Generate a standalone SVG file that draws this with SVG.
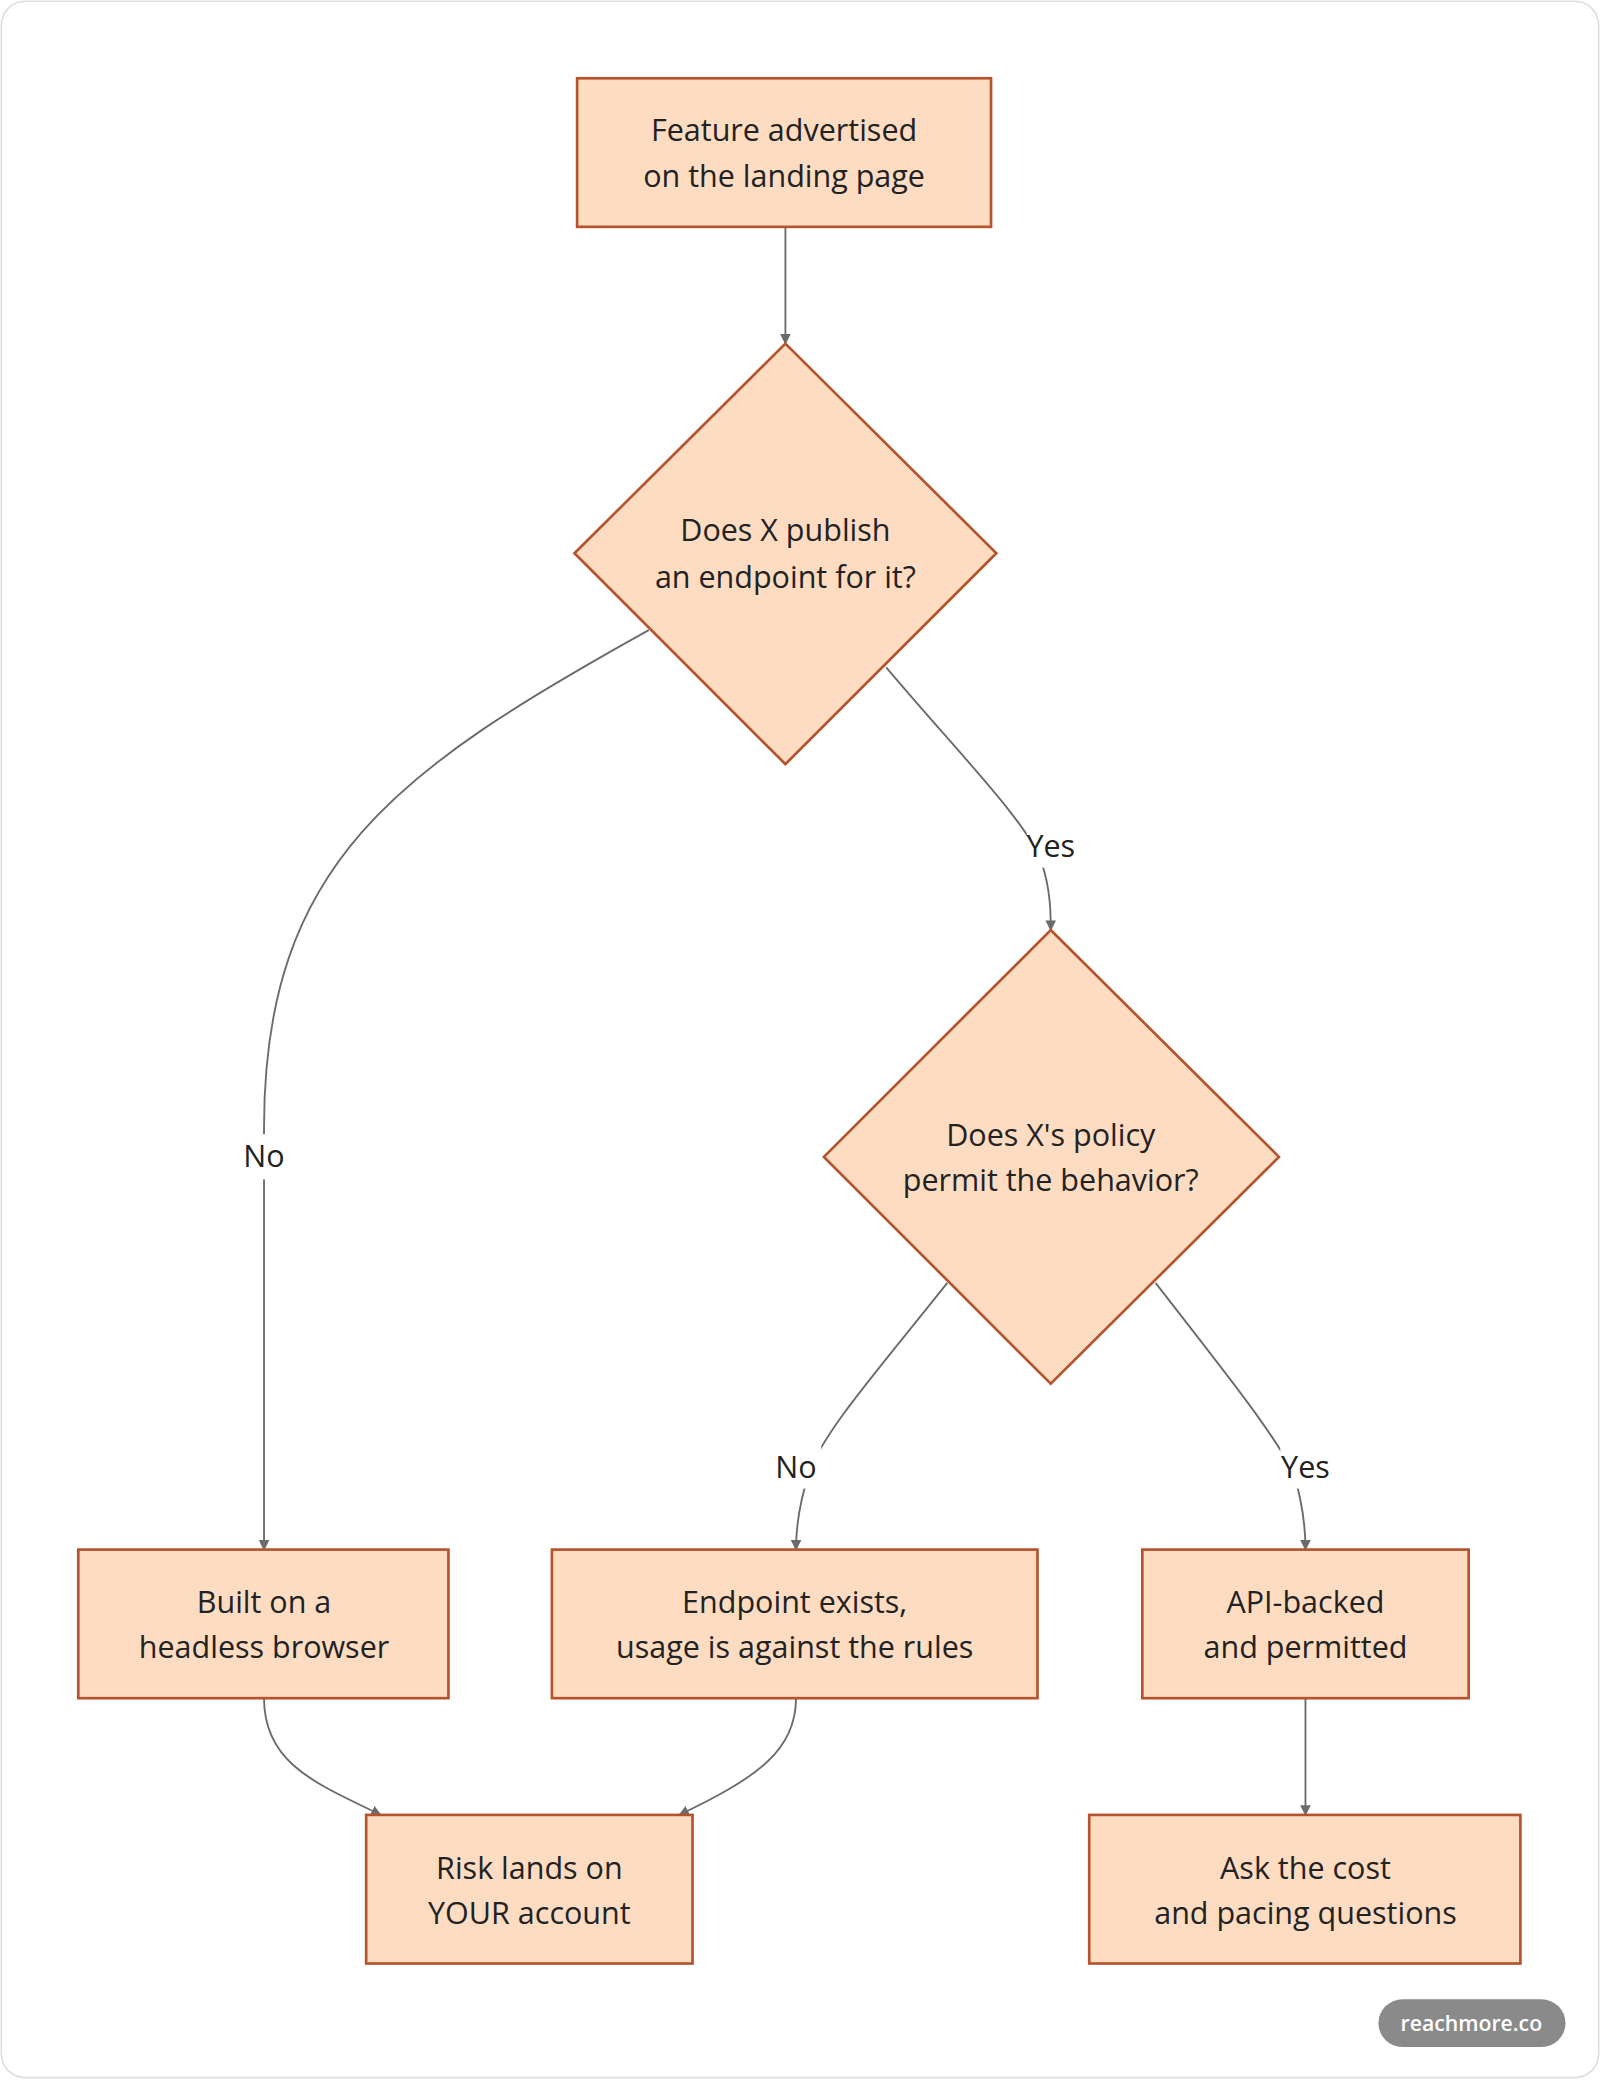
<svg xmlns="http://www.w3.org/2000/svg" width="1600" height="2080" viewBox="0 0 1600 2080">
<defs>
<style>
.n{fill:#fddcc2;stroke:#b5532c;stroke-width:2}
.t{font-family:"Open Sans","Noto Sans",sans-serif;font-size:23px;fill:#222;text-anchor:middle}
.c{fill:none;stroke:#6b6b6b;stroke-width:1.4;marker-end:url(#a)}
.lb{fill:#fff}
</style>
<marker id="a" viewBox="0 0 10 10" refX="9" refY="5" markerWidth="8" markerHeight="8" orient="auto-start-reverse" markerUnits="userSpaceOnUse"><path d="M0,0L10,5L0,10z" fill="#6b6b6b"/></marker>
</defs>
<rect x="0" y="0" width="1600" height="2080" fill="#fff"/>
<g transform="scale(1.3267)">
<rect x="1" y="1" width="1204" height="1565" rx="18" fill="#fff" stroke="#ddd" stroke-width="1.2"/>
<g id="connectors">
<path class="c" d="M592,171L592,259"/>
<path class="c" d="M489,475C300,580 199,650 199,850L199,1168"/>
<path class="c" d="M668,503C720,565 775,620 785,650C792,670 792,690 792,701"/>
<path class="c" d="M714,967C660,1035 620,1080 610,1110C600,1140 600,1160 600,1168"/>
<path class="c" d="M871,967C920,1030 960,1080 975,1110C984,1140 984,1160 984,1168"/>
<path class="c" d="M199,1280C199,1330 240,1345 287,1368"/>
<path class="c" d="M600,1280C600,1320 570,1340 512,1368"/>
<path class="c" d="M984,1280L984,1368"/>
<rect class="lb" x="180" y="855" width="38" height="34"/>
<text class="t" x="199" y="880">No</text>
<rect class="lb" x="774" y="622" width="38" height="32"/>
<text class="t" x="792" y="646">Yes</text>
<rect class="lb" x="581" y="1090" width="38" height="32"/>
<text class="t" x="600" y="1114">No</text>
<rect class="lb" x="965" y="1090" width="38" height="32"/>
<text class="t" x="984" y="1114">Yes</text>
</g>
<g id="n1"><rect class="n" x="435" y="59" width="312" height="112"/><text class="t" x="591" y="106">Feature advertised</text><text class="t" x="591" y="141">on the landing page</text></g>
<g id="d1"><polygon class="n" points="592,259 751,417 592,576 433,417"/><text class="t" x="592" y="408">Does X publish</text><text class="t" x="592" y="443">an endpoint for it?</text></g>
<g id="d2"><polygon class="n" points="792,701 964,872 792,1043 621,872"/><text class="t" x="792" y="864">Does X's policy</text><text class="t" x="792" y="898">permit the behavior?</text></g>
<g id="n2"><rect class="n" x="59" y="1168" width="279" height="112"/><text class="t" x="199" y="1216">Built on a</text><text class="t" x="199" y="1250">headless browser</text></g>
<g id="n3"><rect class="n" x="416" y="1168" width="366" height="112"/><text class="t" x="599" y="1216">Endpoint exists,</text><text class="t" x="599" y="1250">usage is against the rules</text></g>
<g id="n4"><rect class="n" x="861" y="1168" width="246" height="112"/><text class="t" x="984" y="1216">API-backed</text><text class="t" x="984" y="1250">and permitted</text></g>
<g id="n5"><rect class="n" x="276" y="1368" width="246" height="112"/><text class="t" x="399" y="1416">Risk lands on</text><text class="t" x="399" y="1450">YOUR account</text></g>
<g id="n6"><rect class="n" x="821" y="1368" width="325" height="112"/><text class="t" x="984" y="1416">Ask the cost</text><text class="t" x="984" y="1450">and pacing questions</text></g>
<g id="wm"><rect x="1039" y="1507" width="141" height="36" rx="18" fill="#8a8a8a"/><text x="1109" y="1531" font-family="Open Sans,sans-serif" font-size="16" font-weight="600" fill="#fff" text-anchor="middle">reachmore.co</text></g>
</g>
</svg>
